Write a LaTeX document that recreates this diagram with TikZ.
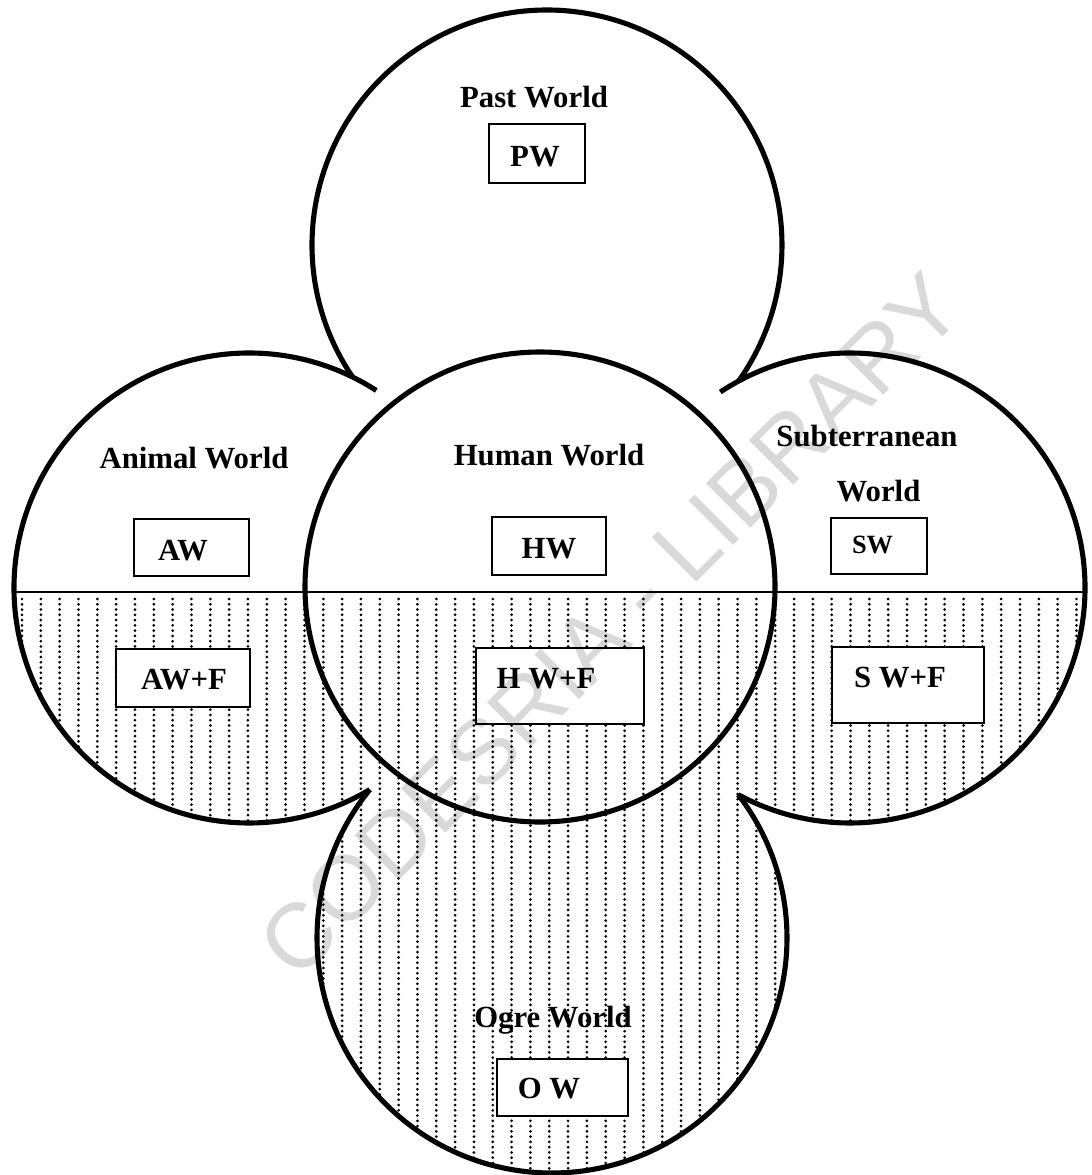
\documentclass[tikz,border=0pt]{standalone}
\usepackage{fontspec}
\setmainfont{Liberation Serif}
\newfontfamily\wmfont{Liberation Sans}
\begin{document}
\begin{tikzpicture}[x=0.02cm, y=-0.02cm]
\tikzset{
  ring/.style={line width=2.9pt},
  divider/.style={line width=1.5pt},
  dotcol/.style={line width=1.7pt, line cap=round, dash pattern=on 0pt off 3pt},
  wbox/.style={draw, line width=1.1pt, inner sep=0pt, rectangle},
  lbl/.style={font=\bfseries\fontsize{17.5}{20}\selectfont, inner sep=0pt, anchor=base},
  wm/.style={font=\wmfont\fontsize{52}{54}\selectfont, text=black!15, inner sep=0pt, rotate=45}
}
\useasboundingbox (0,0) rectangle (1091,1175);
\fill[white] (0,0) rectangle (1091,1175);

% circle centres
\coordinate (cP) at (547,245);
\coordinate (cA) at (249,588);
\coordinate (cH) at (540,587);
\coordinate (cS) at (850,588);
\coordinate (cO) at (552,938);

% watermark
\node[wm] (wmark) at (610,625) {CODESRIA - LIBRARY};

% boxes
\node[wbox, minimum width=1.92cm, minimum height=1.18cm] (bPW) at (537,153.5) {};
\node[wbox, minimum width=2.30cm, minimum height=1.14cm] (bAW) at (191.5,547.5) {};
\node[wbox, minimum width=2.28cm, minimum height=1.16cm] (bHW) at (549,546) {};
\node[wbox, minimum width=1.92cm, minimum height=1.12cm] (bSW) at (879,546) {};
\node[wbox, minimum width=2.68cm, minimum height=1.16cm] (bAWF) at (183,678) {};
\node[wbox, minimum width=3.36cm, minimum height=1.52cm] (bHWF) at (560,686) {};
\node[wbox, minimum width=3.04cm, minimum height=1.52cm] (bSWF) at (908,685) {};
\node[wbox, minimum width=2.62cm, minimum height=1.14cm] (bOW) at (562.5,1087.5) {};

% hatching of the lower half
\begin{scope}[even odd rule]
  \clip (0,594) rectangle (1091,1175)
    (bAWF.south west) rectangle (bAWF.north east)
    (bHWF.south west) rectangle (bHWF.north east)
    (bSWF.south west) rectangle (bSWF.north east)
    (bOW.south west) rectangle (bOW.north east);
  \begin{scope}[nonzero rule]
  \clip (cA) circle[radius=235] (cH) circle[radius=235]
        (cS) circle[radius=235] (cO) circle[radius=235];
  \foreach \k in {0,...,56}
    \draw[dotcol] ({22+18.83*\k},599) -- ({22+18.83*\k},1175);
  \end{scope}
\end{scope}

% dividing line
\coordinate (lineL) at (14,592);
\coordinate (lineR) at (1085,592);
\draw[divider] (lineL) -- (lineR);

% outer arcs
\draw[ring] (cP) ++(145.8:235) arc[start angle=145.8, end angle=395.4, radius=235];
\draw[ring] (cA) ++(-57.2:235) arc[start angle=-57.2, end angle=-300.9, radius=235];
\draw[ring] (cS) ++(-123.5:235) arc[start angle=-123.5, end angle=118.4, radius=235];
\draw[ring] (cO) ++(219.2:235) arc[start angle=219.2, end angle=-37.6, radius=235];
\draw[ring] (cH) circle[radius=235];

% labels
\node[lbl] (tPast) at (534,108) {Past World};
\node[lbl] (tPW) at (535,167) {PW};
\node[lbl] (tAnimal) at (194,468) {Animal World};
\node[lbl] (tAW) at (183,560) {AW};
\node[lbl] (tHuman) at (549,465) {Human World};
\node[lbl] (tHW) at (549,558) {HW};
\node[lbl] (tSub) at (867,446) {Subterranean};
\node[lbl] (tSubW) at (878.5,501) {World};
\node[lbl, font=\bfseries\fontsize{15}{18}\selectfont] (tSW) at (872.5,553) {SW};
\node[lbl] (tAWF) at (184,689) {AW+F};
\node[lbl] (tHWF) at (546,688) {H W+F};
\node[lbl] (tSWF) at (900,687) {S W+F};
\node[lbl] (tOgre) at (553,1027) {Ogre World};
\node[lbl] (tOW) at (549,1098) {O W};
\end{tikzpicture}
\end{document}
